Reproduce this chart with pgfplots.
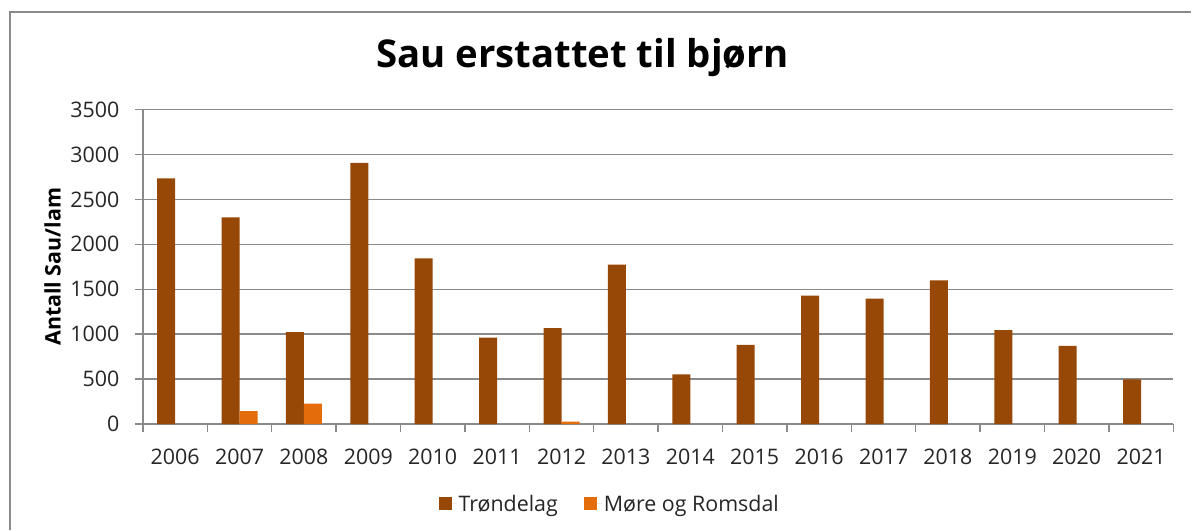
\documentclass[border=0pt]{standalone}
\usepackage{pgfplots}
\pgfplotsset{compat=1.18}
\usepackage{fontspec}
\setmainfont{Open Sans}
\definecolor{brownbar}{HTML}{974806}
\definecolor{orangebar}{HTML}{E46C0A}
\definecolor{gridgray}{HTML}{8A8A8A}
\begin{document}
\begin{tikzpicture}[x=1bp,y=1bp]
\path (0,0) rectangle (1192,530);
\draw[gridgray, line width=1.4bp] (10,0) -- (10,518) -- (1192,518);
\node[font=\bfseries\fontsize{38.5}{46}\selectfont, anchor=base] at (583,462) {Sau erstattet til bjørn};
\begin{axis}[
  at={(143bp,105.7bp)}, anchor=south west, scale only axis,
  width=1031bp, height=314.7bp,
  ybar=0pt, bar width=18bp,
  xmin=-0.5, xmax=15.5, ymin=0, ymax=3500,
  xtick={-0.5,0.5,1.5,2.5,3.5,4.5,5.5,6.5,7.5,8.5,9.5,10.5,11.5,12.5,13.5,14.5,15.5},
  x tick label as interval,
  xticklabels={2006,2007,2008,2009,2010,2011,2012,2013,2014,2015,2016,2017,2018,2019,2020,2021},
  ytick={0,500,1000,1500,2000,2500,3000,3500},
  scaled ticks=false,
  /pgf/number format/1000 sep={},
  /pgf/number format/assume math mode=true,
  axis x line*=bottom, axis y line*=left,
  axis line style={-, draw=gridgray, line width=1.4bp},
  ymajorgrids, grid style={draw=gridgray, line width=1.4bp},
  tick align=outside, major tick length=8bp,
  tick style={draw=gridgray, line width=1.4bp},
  ticklabel style={font=\fontsize{21.5}{25}\selectfont, text=black!85},
  yticklabel style={xshift=-12bp},
  xticklabel style={yshift=-13bp},
  ylabel={Antall Sau/lam},
  ylabel style={at={(axis description cs:-0.0876,0.5)}, anchor=center, font=\bfseries\fontsize{21.5}{25}\selectfont},
  legend columns=2,
  legend style={at={(axis description cs:0.453,-0.2533)}, anchor=center, draw=none,
    font=\fontsize{21.5}{25}\selectfont, text=black!85,
    /tikz/every even column/.append style={column sep=24bp}},
  legend image code/.code={\fill[#1] (0bp,-6.5bp) rectangle (13bp,6.5bp); \path (0bp,0bp) -- (18bp,0bp);},
]
\addplot[fill=brownbar, draw=none] coordinates {
  (0,2735) (1,2300) (2,1022) (3,2907) (4,1844) (5,962) (6,1067) (7,1774)
  (8,552) (9,881) (10,1430) (11,1396) (12,1600) (13,1044) (14,870) (15,497)};
\addplot[fill=orangebar, draw=none] coordinates {
  (1,144) (2,226) (6,26)};
\legend{Trøndelag, Møre og Romsdal}
\end{axis}
\end{tikzpicture}
\end{document}
